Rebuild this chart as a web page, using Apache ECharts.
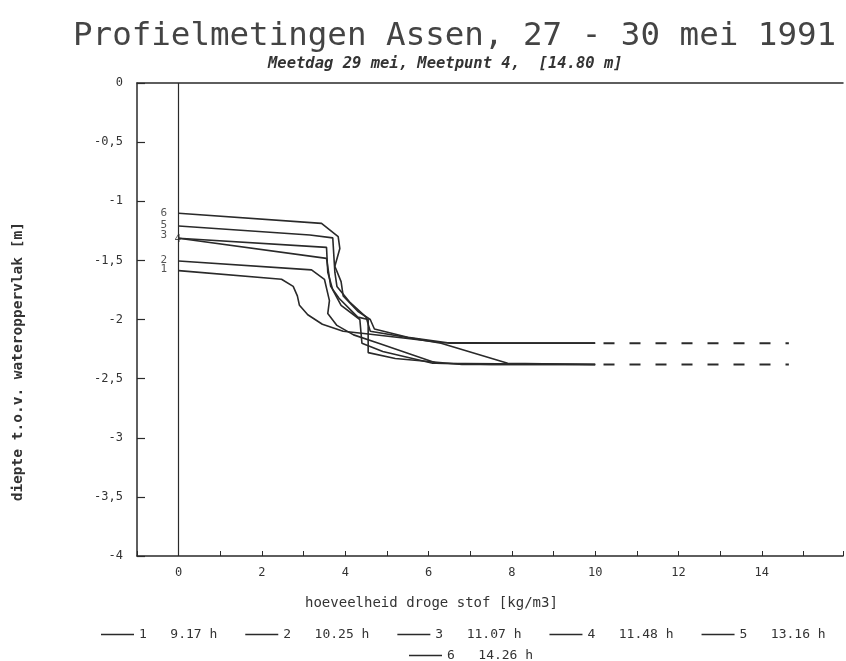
<!DOCTYPE html>
<html>
<head>
<meta charset="utf-8">
<script src="https://cdn.jsdelivr.net/npm/echarts@6/dist/echarts.min.js"></script>
<style>
  html, body { margin: 0; padding: 0; background: #fff; }
  #chart { width: 846px; height: 661px; }
</style>
</head>
<body>
<div id="chart"></div>
<script>
// Depth profiles: [dry matter (kg/m3), depth below water surface (m)]
const profile1 = [[0,-1.587],[2.47,-1.66],[2.75,-1.72],[2.85,-1.80],[2.90,-1.88],[3.1,-1.96],[3.45,-2.04],[3.95,-2.10],[4.5,-2.12],[5.5,-2.16],[6.3,-2.195],[7.8,-2.2],[10,-2.2]];
const profile2 = [[0,-1.505],[3.19,-1.58],[3.5,-1.66],[3.62,-1.84],[3.58,-1.95],[3.8,-2.05],[4.2,-2.13],[4.8,-2.2],[6.2,-2.37],[7.5,-2.38],[10,-2.38]];
const profile3 = [[0,-1.313],[3.55,-1.39],[3.58,-1.60],[3.70,-1.75],[3.90,-1.88],[4.35,-2.0],[4.40,-2.2],[4.9,-2.27],[6.1,-2.37],[10,-2.38]];
const profile4 = [[0,-1.313],[3.55,-1.483],[3.65,-1.72],[3.85,-1.82],[4.3,-1.98],[4.55,-2.0],[4.55,-2.28],[5.2,-2.33],[6.8,-2.38],[10,-2.38]];
const profile5 = [[0,-1.209],[3.15,-1.285],[3.7,-1.31],[3.75,-1.60],[3.8,-1.72],[4.1,-1.85],[4.5,-1.98],[4.6,-2.10],[6.3,-2.2],[7.9,-2.37],[10,-2.38]];
const profile6 = [[0,-1.102],[3.43,-1.187],[3.83,-1.30],[3.87,-1.40],[3.75,-1.55],[3.9,-1.68],[3.95,-1.80],[4.3,-1.93],[4.6,-2.0],[4.7,-2.08],[5.5,-2.15],[6.5,-2.2],[10,-2.2]];

// Extrapolated bottom levels, drawn dashed
const upperExtension = [[10.2,-2.2],[14.65,-2.2]];
const lowerExtension = [[10.2,-2.38],[14.65,-2.38]];

const profiles = [profile1, profile2, profile3, profile4, profile5, profile6];
const measureNumbers = ['1','2','3','4','5','6'];
const measureTimes = ['9.17 h','10.25 h','11.07 h','11.48 h','13.16 h','14.26 h'];

const xMin = -1, xMax = 15.95;
const yMin = -4, yMax = 0;

const ink = '#2a2a2a';
const mono = '"DejaVu Sans Mono", "Liberation Mono", monospace';

// offsets of the small number tags at the start of each profile
const tagOffsets = [[0, -2], [0, -1], [0, -3], [14, 1], [0, -1], [0, 0]];

const seriesNames = measureNumbers.map((n, i) => n + '   ' + measureTimes[i]);

const lineSeries = profiles.map((p, i) => ({
  name: seriesNames[i],
  type: 'line',
  symbol: 'none',
  animation: false,
  lineStyle: { color: ink, width: 1.6 },
  itemStyle: { color: ink },
  data: p
}));

// number tags next to the first point of each profile
const tagSeries = {
  type: 'scatter',
  symbolSize: 1,
  animation: false,
  silent: true,
  itemStyle: { color: 'transparent' },
  data: profiles.map((p, i) => ({
    value: p[0],
    label: {
      show: true, formatter: measureNumbers[i], position: 'left', distance: 11,
      offset: tagOffsets[i], fontFamily: mono, fontSize: 11, color: ink
    }
  }))
};

const extensionSeries = [upperExtension, lowerExtension].map(d => ({
  type: 'line',
  symbol: 'none',
  animation: false,
  lineStyle: { color: ink, width: 2, type: [11, 15] },
  data: d
}));

// vertical reference line at zero dry matter
const zeroLine = {
  type: 'line',
  data: [],
  animation: false,
  markLine: {
    silent: true, symbol: 'none', label: { show: false },
    lineStyle: { color: ink, width: 1.2, type: 'solid' },
    data: [{ xAxis: 0 }]
  }
};

const chart = echarts.init(document.getElementById('chart'), null, { renderer: 'canvas' });

chart.setOption({
  backgroundColor: '#fff',
  animation: false,
  title: [
    {
      text: 'Profielmetingen Assen, 27 - 30 mei 1991',
      left: 68, top: 15,
      textStyle: { fontFamily: mono, fontSize: 32.5, fontWeight: 'normal', color: '#444' }
    },
    {
      text: 'Meetdag 29 mei, Meetpunt 4,  [14.80 m]',
      left: 263, top: 51,
      textStyle: { fontFamily: mono, fontSize: 15.5, fontWeight: 'bold', fontStyle: 'italic', color: '#333' }
    }
  ],
  grid: { left: 137, right: 0, top: 83, bottom: 105, show: false },
  xAxis: [
    {
      type: 'value', min: xMin, max: xMax, interval: 1,
      axisLine: { show: true, onZero: false, lineStyle: { color: ink, width: 1.5 } },
      axisTick: { show: true, inside: true, length: 5, lineStyle: { color: ink } },
      splitLine: { show: false },
      axisLabel: {
        margin: 11, fontFamily: mono, fontSize: 12, color: '#333',
        formatter: v => (v >= 0 && v <= 14 && v % 2 === 0) ? String(v) : ''
      }
    },
    {
      type: 'value', min: xMin, max: xMax, position: 'top',
      axisLine: { show: true, onZero: false, lineStyle: { color: ink, width: 1.5 } },
      axisTick: { show: false }, axisLabel: { show: false }, splitLine: { show: false }
    }
  ],
  yAxis: {
    type: 'value', min: yMin, max: yMax, interval: 0.5,
    axisLine: { show: true, onZero: false, lineStyle: { color: ink, width: 1.5 } },
    axisTick: { show: true, inside: true, length: 8, lineStyle: { color: ink, width: 1.2 } },
    splitLine: { show: false },
    axisLabel: {
      margin: 14, fontFamily: mono, fontSize: 12, color: '#333',
      formatter: v => String(v).replace('.', ',')
    }
  },
  legend: [
    {
      data: seriesNames.slice(0, 5),
      icon: 'rect',
      left: 96, top: 623, itemWidth: 33, itemHeight: 1.6, itemGap: 28,
      textStyle: { fontFamily: mono, fontSize: 13, color: '#333' }
    },
    {
      data: seriesNames.slice(5),
      icon: 'rect',
      left: 404, top: 644, itemWidth: 33, itemHeight: 1.6, itemGap: 28,
      textStyle: { fontFamily: mono, fontSize: 13, color: '#333' }
    }
  ],
  graphic: [
    {
      type: 'text', left: 11, top: 222, rotation: Math.PI / 2,
      style: { text: 'diepte t.o.v. wateroppervlak [m]', font: 'bold 14.5px ' + mono, fill: '#333' }
    },
    {
      type: 'text', left: 305, top: 596,
      style: { text: 'hoeveelheid droge stof [kg/m3]', font: '14px ' + mono, fill: '#333' }
    }
  ],
  series: lineSeries.concat(extensionSeries, [zeroLine, tagSeries])
});
</script>
</body>
</html>
